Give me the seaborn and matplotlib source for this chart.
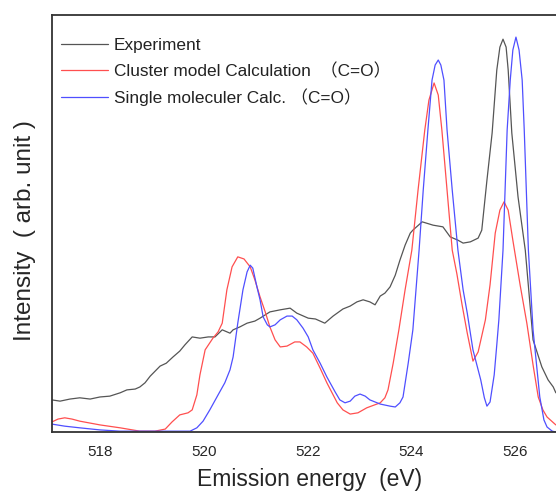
import numpy as np
import pandas as pd
import matplotlib
matplotlib.use('Agg')
import matplotlib.pyplot as plt
from matplotlib.ticker import FixedLocator
import seaborn as sns

sns.set_style('white')
plt.rcParams['font.family'] = ['Liberation Sans', 'Noto Sans CJK JP', 'DejaVu Sans']

# Experiment (black)
exp_e = [517.06, 517.22, 517.41, 517.60, 517.80, 517.99, 518.18, 518.38, 518.51, 518.67,
         518.76, 518.86, 518.96, 519.15, 519.27, 519.40, 519.53, 519.63, 519.77, 519.92,
         520.08, 520.21, 520.35, 520.50, 520.56, 520.69, 520.83, 520.98, 521.08, 521.27,
         521.47, 521.66, 521.79, 522.01, 522.15, 522.33, 522.49, 522.68, 522.82, 522.95,
         523.07, 523.20, 523.30, 523.40, 523.49, 523.59, 523.69, 523.78, 523.88, 523.98,
         524.03, 524.21, 524.42, 524.61, 524.75, 524.90, 525.00, 525.14, 525.29, 525.36,
         525.46, 525.56, 525.65, 525.71, 525.77, 525.83, 525.87, 525.94, 526.06, 526.20,
         526.35, 526.52, 526.64, 526.74, 526.79]
exp_i = [7.7, 7.4, 7.9, 8.2, 7.9, 8.4, 8.6, 9.4, 10.1, 10.3,
         10.8, 11.8, 13.4, 15.8, 16.5, 18.0, 19.4, 20.9, 22.8, 22.5,
         22.8, 22.8, 24.5, 23.7, 24.5, 25.2, 26.1, 26.6, 27.3, 28.8,
         29.3, 29.7, 28.5, 27.3, 27.1, 26.1, 27.8, 29.5, 30.2, 31.2,
         31.7, 31.2, 30.5, 32.6, 33.3, 34.8, 37.6, 41.2, 44.8, 47.7,
         48.4, 50.4, 49.6, 49.2, 46.8, 46.0, 45.3, 45.6, 46.5, 48.4,
         60.4, 71.7, 86.8, 92.3, 94.2, 92.3, 86.8, 71.7, 56.4, 43.6,
         22.1, 15.6, 12.5, 10.8, 9.4]

# Cluster model calculation (red)
clu_e = [517.06, 517.18, 517.31, 517.45, 517.60, 517.99, 518.38, 518.76, 519.05, 519.25,
         519.38, 519.53, 519.69, 519.77, 519.86, 519.92, 520.02, 520.17, 520.27, 520.35,
         520.44, 520.54, 520.65, 520.77, 520.89, 520.98, 521.08, 521.18, 521.27, 521.37,
         521.47, 521.60, 521.75, 521.85, 521.98, 522.10, 522.24, 522.37, 522.57, 522.68,
         522.82, 522.97, 523.14, 523.40, 523.49, 523.55, 523.65, 523.76, 523.88, 524.01,
         524.13, 524.26, 524.34, 524.44, 524.52, 524.59, 524.69, 524.79, 524.88, 524.98,
         525.08, 525.19, 525.29, 525.43, 525.52, 525.62, 525.71, 525.79, 525.87, 525.96,
         526.10, 526.23, 526.35, 526.45, 526.54, 526.62, 526.79]
clu_i = [2.4, 3.1, 3.4, 3.1, 2.6, 1.7, 1.0, 0.2, 0.2, 0.7,
         2.4, 4.1, 4.6, 5.3, 8.9, 13.7, 19.7, 22.5, 24.0, 26.1,
         34.1, 39.6, 42.0, 41.5, 39.6, 36.5, 32.4, 28.8, 25.2, 22.1,
         20.4, 20.6, 21.6, 21.6, 20.4, 18.9, 15.3, 11.8, 7.0, 5.3,
         4.3, 4.6, 5.8, 7.0, 8.2, 10.1, 16.5, 24.5, 34.1, 43.6,
         58.0, 72.4, 79.6, 83.7, 80.8, 72.4, 58.0, 43.6, 37.9, 30.5,
         23.7, 17.0, 19.2, 26.9, 35.3, 47.7, 53.2, 55.2, 53.2, 46.0,
         35.3, 26.1, 16.1, 8.4, 5.3, 3.6, 1.7]

# Single molecule calculation (blue)
sin_e = [517.06, 517.31, 517.60, 517.99, 518.38, 518.96, 519.73, 519.86, 519.98, 520.11,
         520.27, 520.40, 520.50, 520.56, 520.65, 520.75, 520.83, 520.89, 520.94, 521.02,
         521.08, 521.14, 521.22, 521.27, 521.37, 521.47, 521.60, 521.70, 521.79, 521.91,
         522.01, 522.10, 522.24, 522.37, 522.53, 522.62, 522.72, 522.82, 522.91, 523.01,
         523.11, 523.20, 523.40, 523.59, 523.69, 523.78, 523.84, 523.94, 524.03, 524.15,
         524.23, 524.32, 524.40, 524.46, 524.52, 524.57, 524.63, 524.69, 524.79, 524.90,
         525.00, 525.08, 525.19, 525.34, 525.41, 525.46, 525.52, 525.60, 525.65, 525.69,
         525.77, 525.81, 525.85, 525.91, 525.96, 526.02, 526.08, 526.14, 526.18, 526.26,
         526.35, 526.48, 526.56, 526.62, 526.72, 526.79]
sin_i = [1.9, 1.4, 1.0, 0.5, 0.2, 0.2, 0.2, 1.0, 2.6, 5.3,
         8.9, 11.8, 14.9, 18.0, 26.1, 34.1, 38.4, 40.0, 39.3, 34.8,
         31.7, 27.6, 25.7, 25.2, 25.7, 26.9, 27.8, 27.8, 26.9, 24.9,
         22.8, 19.7, 16.5, 13.2, 9.6, 7.7, 7.0, 7.4, 8.6, 9.1,
         8.6, 7.7, 6.7, 6.2, 6.0, 7.0, 8.4, 16.5, 24.5, 43.6,
         58.0, 72.4, 84.4, 88.0, 89.2, 88.0, 84.4, 72.4, 58.0, 43.6,
         34.1, 28.5, 19.7, 12.5, 8.2, 6.2, 7.2, 13.7, 20.9, 26.9,
         43.6, 58.0, 72.4, 84.4, 91.6, 94.7, 91.6, 84.4, 72.4, 43.6,
         24.5, 8.4, 2.9, 1.2, 0.2, 0.0]

labels = ['Experiment', 'Cluster model Calculation  （C=O）', 'Single moleculer Calc. （C=O）']
colors = ['#555555', '#ff4f4f', '#4f4fff']
x_ticks = [518, 520, 522, 524, 526]

fig = plt.figure(figsize=(5.56, 4.91), dpi=100)
ax = fig.add_axes([52 / 556, 59 / 491, 504 / 556, 417 / 491])

for e, i, lab, c in zip([exp_e, clu_e, sin_e], [exp_i, clu_i, sin_i], labels, colors):
    df = pd.DataFrame({'E': e, 'I': i})
    sns.lineplot(data=df, x='E', y='I', ax=ax, color=c, lw=0.9, label=lab, sort=False)

ax.set_xlim(517.064, 526.793)
ax.set_ylim(0, 100)
ax.set_xticks(x_ticks)
ax.set_xticklabels([str(t) for t in x_ticks], fontsize=11)
ax.xaxis.set_minor_locator(FixedLocator([519, 521, 523, 525]))
ax.tick_params(axis='x', which='major', length=0, pad=9.5)
ax.tick_params(axis='x', which='minor', direction='in', length=4, width=1, color='#333333')
ax.set_yticks([75.3])
ax.set_yticklabels([''])
ax.tick_params(axis='y', direction='in', length=8, width=1, color='#333333')

for s in ['left', 'top', 'bottom']:
    ax.spines[s].set_color('#333333')
    ax.spines[s].set_linewidth(1.3)
ax.spines['right'].set_visible(False)

ax.set_xlabel('Emission energy  (eV)', fontsize=16.5, va='center')
ax.xaxis.set_label_coords(0.511, -0.113)
ax.set_ylabel('Intensity  ( arb. unit )', fontsize=17.5, va='center')
ax.yaxis.set_label_coords(-0.054, 0.482)

leg = ax.legend(loc='upper left', bbox_to_anchor=(0.018, 0.944), frameon=False, fontsize=12.4,
                handlelength=2.73, handletextpad=0.35, labelspacing=0.54, borderpad=0, borderaxespad=0)
for t in leg.get_texts():
    t.set_color('#222222')

fig.savefig('out.png', dpi=100)
